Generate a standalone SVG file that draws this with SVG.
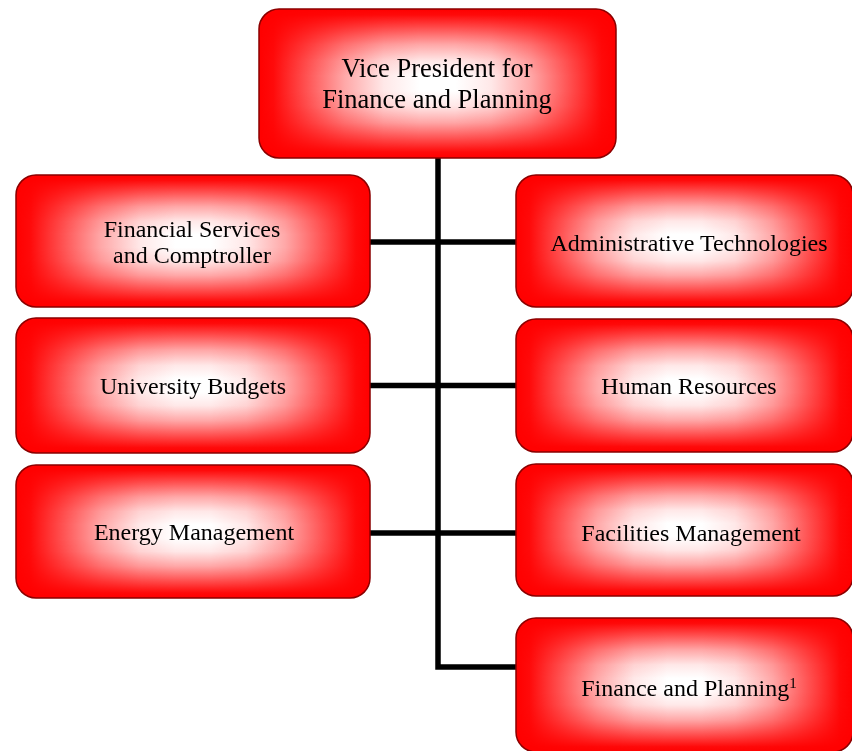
<svg xmlns="http://www.w3.org/2000/svg" width="852" height="751" viewBox="0 0 852 751">
<defs>
<linearGradient id="gh" x1="0" y1="0" x2="1" y2="0"><stop offset="0" stop-color="#ff0000"/><stop offset="0.04" stop-color="#ff0a0a"/><stop offset="0.13" stop-color="#ff5050"/><stop offset="0.24" stop-color="#ffa8a8"/><stop offset="0.35" stop-color="#ffe8e8"/><stop offset="0.45" stop-color="#ffffff"/><stop offset="0.55" stop-color="#ffffff"/><stop offset="0.65" stop-color="#ffe8e8"/><stop offset="0.76" stop-color="#ffa8a8"/><stop offset="0.87" stop-color="#ff5050"/><stop offset="0.96" stop-color="#ff0a0a"/><stop offset="1" stop-color="#ff0000"/></linearGradient>
<linearGradient id="gv" x1="0" y1="0" x2="0" y2="1"><stop offset="0" stop-color="#ff0000"/><stop offset="0.04" stop-color="#ff0a0a"/><stop offset="0.13" stop-color="#ff5050"/><stop offset="0.24" stop-color="#ffa8a8"/><stop offset="0.35" stop-color="#ffe8e8"/><stop offset="0.45" stop-color="#ffffff"/><stop offset="0.55" stop-color="#ffffff"/><stop offset="0.65" stop-color="#ffe8e8"/><stop offset="0.76" stop-color="#ffa8a8"/><stop offset="0.87" stop-color="#ff5050"/><stop offset="0.96" stop-color="#ff0a0a"/><stop offset="1" stop-color="#ff0000"/></linearGradient>
<style>
.nd{isolation:isolate}
.h{fill:url(#gh)}
.v{fill:url(#gv);mix-blend-mode:multiply}
.o{fill:none;stroke:#8b0000;stroke-width:1.5}
.t{font-family:"Liberation Serif","Times New Roman",serif;font-size:24px;fill:#000;text-anchor:middle}
.tt{font-size:26.5px}
.c{stroke:#000;fill:none;stroke-width:5.5}
</style>
</defs>
<rect width="852" height="751" fill="#fff"/>
<g id="connectors">
<polyline class="c" points="438,158 438,667 518,667"/>
<line class="c" x1="370" y1="242" x2="516" y2="242"/>
<line class="c" x1="370" y1="385.5" x2="516" y2="385.5"/>
<line class="c" x1="370" y1="533" x2="516" y2="533"/>
</g>
<g id="vp" class="nd">
<rect class="h" x="259" y="9" width="357" height="149" rx="20"/>
<rect class="v" x="259" y="9" width="357" height="149" rx="20"/>
<rect class="o" x="259" y="9" width="357" height="149" rx="20"/>
<text class="t tt" x="437" y="77">Vice President for</text>
<text class="t tt" x="437" y="108">Finance and Planning</text>
</g>
<g id="fs" class="nd">
<rect class="h" x="16" y="175" width="354" height="132" rx="20"/>
<rect class="v" x="16" y="175" width="354" height="132" rx="20"/>
<rect class="o" x="16" y="175" width="354" height="132" rx="20"/>
<text class="t" x="192" y="237">Financial Services</text>
<text class="t" x="192" y="263">and Comptroller</text>
</g>
<g id="ub" class="nd">
<rect class="h" x="16" y="318" width="354" height="135" rx="20"/>
<rect class="v" x="16" y="318" width="354" height="135" rx="20"/>
<rect class="o" x="16" y="318" width="354" height="135" rx="20"/>
<text class="t" x="193" y="394">University Budgets</text>
</g>
<g id="em" class="nd">
<rect class="h" x="16" y="465" width="354" height="133" rx="20"/>
<rect class="v" x="16" y="465" width="354" height="133" rx="20"/>
<rect class="o" x="16" y="465" width="354" height="133" rx="20"/>
<text class="t" x="194" y="540">Energy Management</text>
</g>
<g id="at" class="nd">
<rect class="h" x="516" y="175" width="337" height="132" rx="20"/>
<rect class="v" x="516" y="175" width="337" height="132" rx="20"/>
<rect class="o" x="516" y="175" width="337" height="132" rx="20"/>
<text class="t" x="689" y="251">Administrative Technologies</text>
</g>
<g id="hr" class="nd">
<rect class="h" x="516" y="319" width="337" height="133" rx="20"/>
<rect class="v" x="516" y="319" width="337" height="133" rx="20"/>
<rect class="o" x="516" y="319" width="337" height="133" rx="20"/>
<text class="t" x="689" y="394">Human Resources</text>
</g>
<g id="fm" class="nd">
<rect class="h" x="516" y="464" width="337" height="132" rx="20"/>
<rect class="v" x="516" y="464" width="337" height="132" rx="20"/>
<rect class="o" x="516" y="464" width="337" height="132" rx="20"/>
<text class="t" x="691" y="541">Facilities Management</text>
</g>
<g id="fp" class="nd">
<rect class="h" x="516" y="618" width="337" height="134" rx="20"/>
<rect class="v" x="516" y="618" width="337" height="134" rx="20"/>
<rect class="o" x="516" y="618" width="337" height="134" rx="20"/>
<text class="t" x="689" y="696" font-size="23.3">Finance and Planning<tspan font-size="15" dy="-8">1</tspan></text>
</g>
</svg>
